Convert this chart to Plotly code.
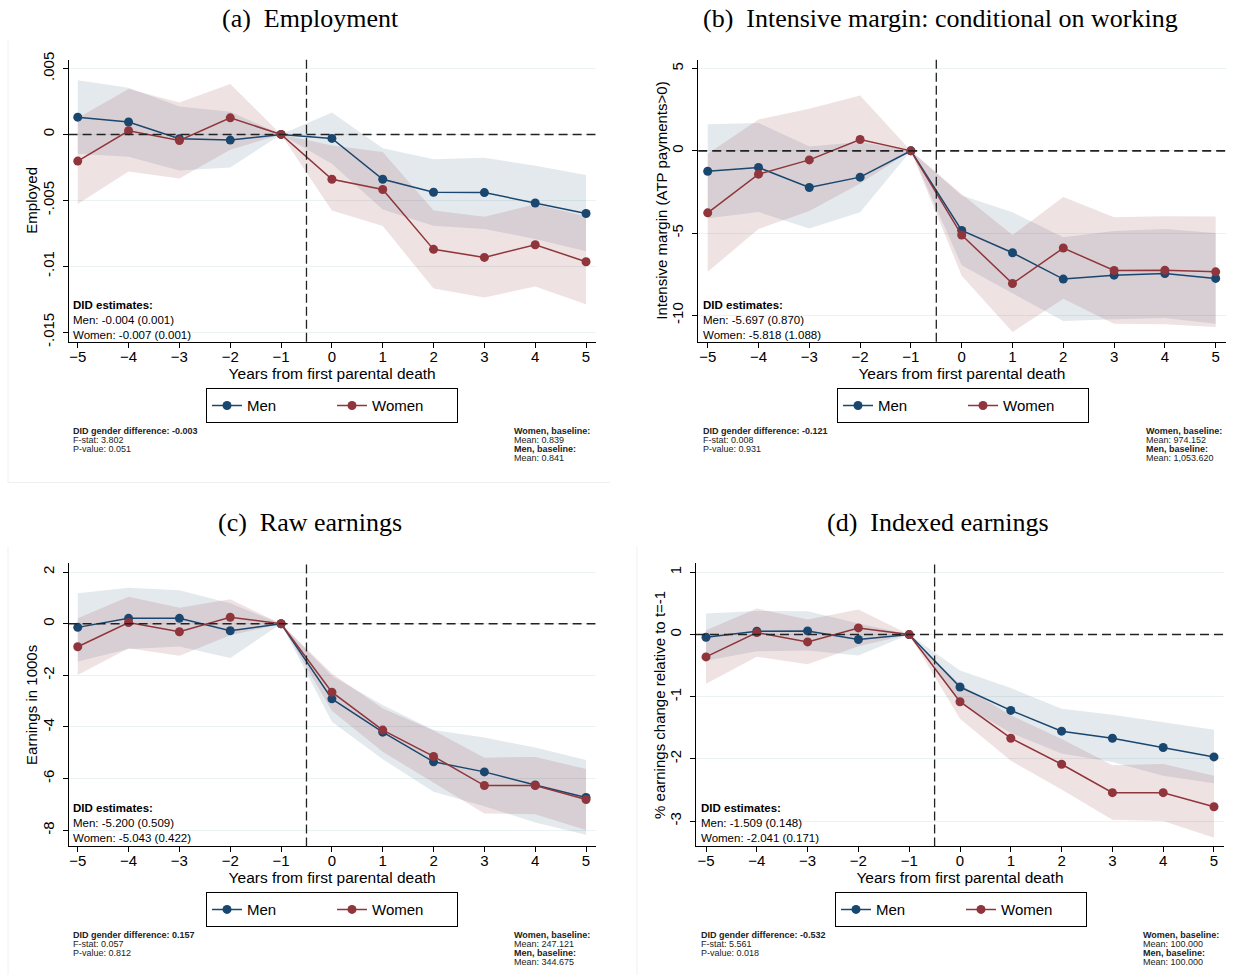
import plotly.graph_objects as go

W, H = 1238, 980
# the photographed page maps figure y to picture y as 7.87 + 0.984 * y
Y_OFF, Y_SCALE = 7.87, 0.984

years = [-5, -4, -3, -2, -1, 0, 1, 2, 3, 4, 5]

# (a) Employment
emp_men = [0.00131, 0.00094, -0.00033, -0.00043, 0, -0.0003, -0.0034, -0.00439, -0.00441, -0.0052, -0.006]
emp_men_hi = [0.00412, 0.00354, 0.00212, 0.00172, 0, 0.00167, -0.00104, -0.00188, -0.00177, -0.00238, -0.00307]
emp_men_lo = [-0.00147, -0.00169, -0.00273, -0.0025, 0, -0.00223, -0.0057, -0.00692, -0.00717, -0.00793, -0.00887]
emp_wom = [-0.00202, 0.00028, -0.00046, 0.00126, 0, -0.0034, -0.00418, -0.00872, -0.00933, -0.00837, -0.00966]
emp_wom_hi = [0.00124, 0.00344, 0.00243, 0.00382, 0, -0.00084, -0.00134, -0.00578, -0.00624, -0.0053, -0.0062]
emp_wom_lo = [-0.00528, -0.00281, -0.00334, -0.00116, 0, -0.00578, -0.00695, -0.01169, -0.01237, -0.01153, -0.01288]

# (b) Intensive margin
int_men = [-1.24, -1.01, -2.23, -1.6, 0, -4.84, -6.2, -7.8, -7.56, -7.46, -7.76]
int_men_hi = [1.62, 1.7, 0.26, 0.53, 0, -2.72, -3.74, -5.25, -4.88, -4.76, -5.0]
int_men_lo = [-4.1, -3.72, -4.72, -3.73, 0, -6.96, -8.66, -10.35, -10.24, -10.16, -10.52]
int_wom = [-3.77, -1.42, -0.55, 0.69, 0, -5.12, -8.07, -5.91, -7.28, -7.26, -7.36]
int_wom_hi = [-0.18, 1.91, 2.56, 3.37, 0, -2.64, -5.12, -2.8, -4.04, -3.98, -4.0]
int_wom_lo = [-7.36, -4.75, -3.66, -1.99, 0, -7.6, -11.02, -9.0, -10.52, -10.54, -10.72]

# (c) Raw earnings
raw_men = [-0.14, 0.21, 0.21, -0.27, 0, -2.91, -4.2, -5.35, -5.74, -6.25, -6.73]
raw_men_hi = [1.18, 1.4, 1.3, 0.79, 0, -2.02, -3.15, -4.12, -4.41, -4.8, -5.28]
raw_men_lo = [-1.46, -0.98, -0.88, -1.33, 0, -3.8, -5.25, -6.51, -7.07, -7.7, -8.18]
raw_wom = [-0.89, 0.05, -0.31, 0.25, 0, -2.65, -4.12, -5.14, -6.27, -6.27, -6.81]
raw_wom_hi = [0.21, 1.05, 0.62, 0.95, 0, -1.93, -3.28, -4.14, -5.19, -5.16, -5.63]
raw_wom_lo = [-1.99, -0.95, -1.24, -0.45, 0, -3.37, -4.96, -6.14, -7.35, -7.38, -7.99]

# (d) Indexed earnings
idx_men = [-0.043, 0.054, 0.059, -0.08, 0, -0.844, -1.22, -1.554, -1.667, -1.817, -1.968]
idx_men_hi = [0.338, 0.38, 0.376, 0.177, 0, -0.58, -0.86, -1.194, -1.29, -1.409, -1.532]
idx_men_lo = [-0.423, -0.27, -0.258, -0.337, 0, -1.108, -1.58, -1.914, -2.05, -2.27, -2.39]
idx_wom = [-0.36, 0.032, -0.118, 0.107, 0, -1.08, -1.667, -2.086, -2.543, -2.543, -2.769]
idx_wom_hi = [0.07, 0.419, 0.242, 0.403, 0, -0.805, -1.3, -1.68, -2.1, -2.08, -2.27]
idx_wom_lo = [-0.79, -0.355, -0.478, -0.19, 0, -1.355, -2.03, -2.49, -2.98, -3.0, -3.27]

titles = ["(a)  Employment", "(b)  Intensive margin: conditional on working",
          "(c)  Raw earnings", "(d)  Indexed earnings"]
ytitles = ["Employed", "Intensive margin (ATP payments>0)", "Earnings in 1000s",
           "% earnings change relative to t=-1"]
ytickvals = [[0.005, 0, -0.005, -0.01, -0.015], [5, 0, -5, -10],
             [2, 0, -2, -4, -6, -8], [1, 0, -1, -2, -3]]
yticktext = [[".005", "0", "-.005", "-.01", "-.015"], ["5", "0", "-5", "-10"],
             ["2", "0", "-2", "-4", "-6", "-8"], ["1", "0", "-1", "-2", "-3"]]
did_lines = [["Men: -0.004 (0.001)", "Women: -0.007 (0.001)"],
             ["Men: -5.697 (0.870)", "Women: -5.818 (1.088)"],
             ["Men: -5.200 (0.509)", "Women: -5.043 (0.422)"],
             ["Men: -1.509 (0.148)", "Women: -2.041 (0.171)"]]
gender_diff = ["-0.003", "-0.121", "0.157", "-0.532"]
fstats = ["3.802", "0.008", "0.057", "5.561"]
pvalues = ["0.051", "0.931", "0.812", "0.018"]
women_means = ["0.839", "974.152", "247.121", "100.000"]
men_means = ["0.841", "1,053.620", "344.675", "100.000"]

series = [
    (emp_men, emp_men_hi, emp_men_lo, emp_wom, emp_wom_hi, emp_wom_lo),
    (int_men, int_men_hi, int_men_lo, int_wom, int_wom_hi, int_wom_lo),
    (raw_men, raw_men_hi, raw_men_lo, raw_wom, raw_wom_hi, raw_wom_lo),
    (idx_men, idx_men_hi, idx_men_lo, idx_wom, idx_wom_hi, idx_wom_lo),
]

# layout geometry in reference pixels: plot box (x0, x1, y0, y1), axis ranges
panels = [
    dict(box=(68.6, 595.7, 59.3, 340.7), xr=[-5.18, 5.19], yr=[-0.01573, 0.00568],
         title_xy=(310, 18), ytitle_x=32, legend_xy=(332, 404.5), left=71, right=512, top_note=429.3,
         did_y=318.7),
    dict(box=(698.2, 1225.7, 59.3, 340.7), xr=[-5.187, 5.197], yr=[-11.61, 5.55],
         title_xy=(940, 18), ytitle_x=662, legend_xy=(963, 404.5), left=701.4, right=1143.7, top_note=429.3,
         did_y=318.7),
    dict(box=(68.6, 595.7, 561.7, 844.0), xr=[-5.18, 5.19], yr=[-8.63, 2.34],
         title_xy=(310, 521), ytitle_x=32, legend_xy=(332, 907), left=71, right=512, top_note=932.7,
         did_y=820.7),
    dict(box=(696.0, 1224.0, 561.7, 844.0), xr=[-5.197, 5.197], yr=[-3.408, 1.145],
         title_xy=(938, 521), ytitle_x=660, legend_xy=(961, 907), left=699, right=1141, top_note=932.7,
         did_y=820.7),
]

NAVY = "#1a476f"
MAROON = "#90353b"
SANS = "Liberation Sans, Arial, sans-serif"
SERIF = "Liberation Serif, Times New Roman, serif"


def px(x):
    return x / W


def py(y):
    return 1 - ((y - Y_OFF) / Y_SCALE) / H


fig = go.Figure()
annotations = []
shapes = []
layout = {}

for i, (p, s) in enumerate(zip(panels, series)):
    n = "" if i == 0 else str(i + 1)
    xa, ya = "x" + n, "y" + n
    leg = "legend" if i == 0 else "legend" + str(i + 1)
    men, men_hi, men_lo, wom, wom_hi, wom_lo = s

    # confidence bands
    for hi, lo, col in [(men_hi, men_lo, "rgba(26,71,111,0.12)"), (wom_hi, wom_lo, "rgba(144,53,59,0.14)")]:
        fig.add_trace(go.Scatter(x=years, y=hi, mode="lines", line=dict(width=0), xaxis=xa, yaxis=ya,
                                 showlegend=False, hoverinfo="skip"))
        fig.add_trace(go.Scatter(x=years, y=lo, mode="lines", line=dict(width=0), fill="tonexty",
                                 fillcolor=col, xaxis=xa, yaxis=ya, showlegend=False, hoverinfo="skip"))
    # point estimates
    fig.add_trace(go.Scatter(x=years, y=men, mode="lines+markers", name="Men",
                             line=dict(color=NAVY, width=1.5), marker=dict(color=NAVY, size=9),
                             xaxis=xa, yaxis=ya, legend=leg))
    fig.add_trace(go.Scatter(x=years, y=wom, mode="lines+markers", name="Women",
                             line=dict(color=MAROON, width=1.5), marker=dict(color=MAROON, size=9),
                             xaxis=xa, yaxis=ya, legend=leg))

    x0, x1, y0, y1 = p["box"]
    layout["xaxis" + n] = dict(
        domain=[px(x0), px(x1)], range=p["xr"], anchor=ya, tickvals=years,
        ticks="outside", ticklen=5, tickcolor="black", showline=True, linecolor="black", linewidth=1,
        showgrid=False, zeroline=False, tickfont=dict(family=SANS, size=15, color="black"),
        ticklabelstandoff=-4,
        title=dict(text="Years from first parental death", font=dict(family=SANS, size=15.5, color="black"),
                   standoff=1),
    )
    layout["yaxis" + n] = dict(
        domain=[py(y1), py(y0)], range=p["yr"], anchor=xa, tickvals=ytickvals[i], ticktext=yticktext[i],
        tickangle=-90, ticks="outside", ticklen=5, tickcolor="black", showline=True, linecolor="black",
        linewidth=1, showgrid=True, gridcolor="#eaf2f3", gridwidth=1, zeroline=False,
        ticklabelstandoff=3,
        tickfont=dict(family=SANS, size=15, color="black"),
    )
    # y-axis title
    annotations.append(dict(text=ytitles[i], xref="paper", yref="paper", x=px(p["ytitle_x"]),
                            y=py((y0 + y1) / 2), textangle=-90, showarrow=False, xanchor="center",
                            yanchor="middle", font=dict(family=SANS, size=15, color="black")))
    # reference lines
    shapes.append(dict(type="line", xref=xa, yref=ya, x0=p["xr"][0], x1=p["xr"][1], y0=0, y1=0,
                       line=dict(color="#222222", width=1.6, dash="9px,5px"), layer="above"))
    shapes.append(dict(type="line", xref=xa, yref="paper", x0=-0.5, x1=-0.5, y0=py(y1), y1=py(y0),
                       line=dict(color="#222222", width=1.3, dash="9px,4px"), layer="above"))
    # panel title
    tx, ty = p["title_xy"]
    annotations.append(dict(text=titles[i], xref="paper", yref="paper", x=px(tx), y=py(ty),
                            xanchor="center", yanchor="middle", showarrow=False,
                            font=dict(family=SERIF, size=26, color="black")))
    # DID estimates block
    annotations.append(dict(text="<b>DID estimates:</b><br>%s<br>%s" % tuple(did_lines[i]),
                            xref="paper", yref="paper", x=px(p["left"]), y=py(p["did_y"]),
                            xanchor="left", yanchor="middle", align="left", showarrow=False,
                            font=dict(family=SANS, size=11.5, color="black")))
    # bottom notes
    tn = p["top_note"]
    left_notes = [("<b>DID gender difference: %s</b>" % gender_diff[i]), "F-stat: %s" % fstats[i],
                  "P-value: %s" % pvalues[i]]
    right_notes = ["<b>Women, baseline:</b>", "Mean: %s" % women_means[i], "<b>Men, baseline:</b>",
                   "Mean: %s" % men_means[i]]
    for k, txt in enumerate(left_notes):
        annotations.append(dict(text=txt, xref="paper", yref="paper", x=px(p["left"]), y=py(tn + 9 * k),
                                xanchor="left", yanchor="middle", showarrow=False,
                                font=dict(family=SANS, size=9, color="#222222")))
    for k, txt in enumerate(right_notes):
        annotations.append(dict(text=txt, xref="paper", yref="paper", x=px(p["right"]), y=py(tn + 9 * k),
                                xanchor="left", yanchor="middle", showarrow=False,
                                font=dict(family=SANS, size=9, color="#222222")))
    # legend
    lx, ly = p["legend_xy"]
    layout[leg] = dict(x=px(lx), y=py(ly), xanchor="center", yanchor="middle", orientation="h",
                       bordercolor="black", borderwidth=1, bgcolor="white", traceorder="normal",
                       font=dict(family=SANS, size=15, color="black"), entrywidth=80)

# faint borders of the sub-figures
for (xa0, ya0, xa1, ya1) in [(8, 40, 8, 481), (8, 481, 610, 481), (8, 545, 8, 972), (637, 545, 637, 972)]:
    shapes.append(dict(type="line", xref="paper", yref="paper", x0=px(xa0), x1=px(xa1), y0=py(ya0),
                       y1=py(ya1), line=dict(color="#f0f0f0", width=1), layer="below"))

layout.update(dict(width=W, height=H, margin=dict(l=0, r=0, t=0, b=0), paper_bgcolor="white",
                   plot_bgcolor="white", annotations=annotations, shapes=shapes, showlegend=True))
fig.update_layout(**layout)
fig.write_html("out.html")
